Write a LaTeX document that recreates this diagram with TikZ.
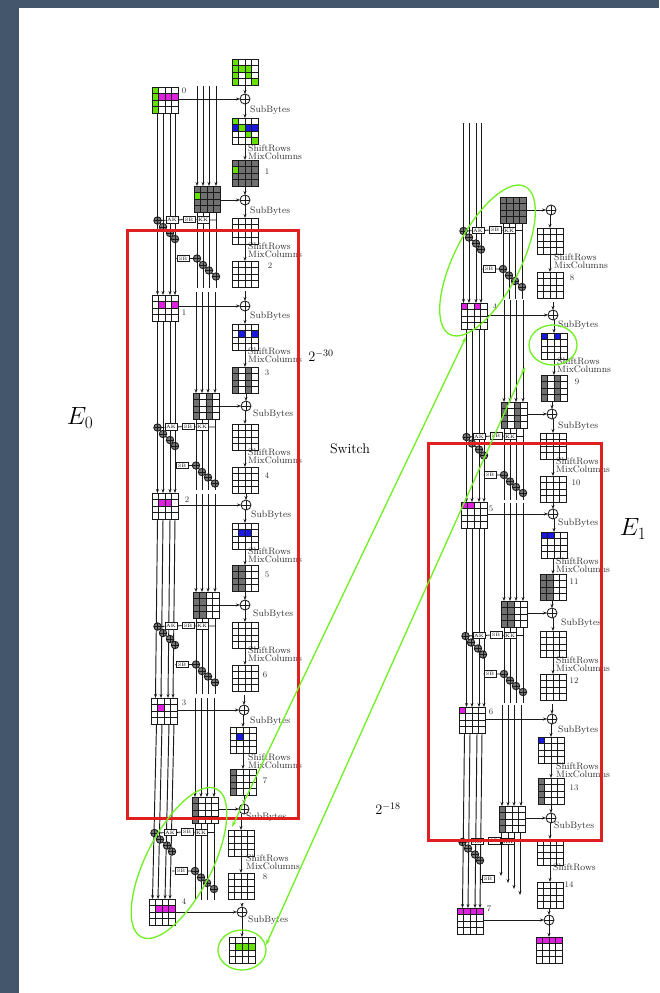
\documentclass[tikz,border=0pt]{standalone}
\usetikzlibrary{arrows.meta,shapes.geometric,calc}
\definecolor{gn}{HTML}{66E000}
\definecolor{mg}{HTML}{E020E0}
\definecolor{bl}{HTML}{1818E0}
\definecolor{dk}{HTML}{707070}
\definecolor{dot}{HTML}{787878}
\definecolor{ink}{HTML}{1A1A1A}
\definecolor{slate}{HTML}{44566C}
\definecolor{redb}{HTML}{E02020}
\definecolor{lime}{HTML}{70F020}
\tikzset{
  wire/.style={draw=ink,line width=0.95pt},
  arw/.style={wire,-{Stealth[length=4pt,width=3pt]}},
  gridbox/.style={rectangle,draw=ink,line width=1pt,minimum size=26,inner sep=0,outer sep=0},
  xorn/.style={circle,draw=ink,line width=0.85pt,minimum size=10,inner sep=0,outer sep=0,
    path picture={\draw[ink,line width=0.7pt] (path picture bounding box.north)--(path picture bounding box.south)
      (path picture bounding box.west)--(path picture bounding box.east);}},
  xord/.style={xorn,fill=dot,minimum size=7.5},
  keybox/.style={rectangle,draw=ink,line width=0.8pt,fill=white,minimum width=12,minimum height=6.5,inner sep=0,font=\fontsize{4.8}{5}\selectfont},
  tx/.style={anchor=west,inner sep=0,align=left,text=ink!90,font=\fontsize{9.4}{8}\selectfont},
  num/.style={inner sep=0,text=ink!90,font=\fontsize{8.5}{8}\selectfont},
  big/.style={inner sep=0,font=\fontsize{14}{16}\selectfont},
  redbox/.style={draw=redb,line width=3pt},
  ell/.style={ellipse,draw=lime,line width=1.3pt,inner sep=0},
  garw/.style={draw=lime,line width=1.3pt,{Stealth[length=6pt,width=4pt]}-{Stealth[length=6pt,width=4pt]}},
}
\def\wh{0/0/white}
\def\colA{0/0/dk,0/1/dk,0/2/dk,0/3/dk}
\def\colB{1/0/dk,1/1/dk,1/2/dk,1/3/dk}
\def\colC{2/0/dk,2/1/dk,2/2/dk,2/3/dk}
\def\colD{3/0/dk,3/1/dk,3/2/dk,3/3/dk}
% name, left, top, fills col/row/colour
\newcommand{\gridat}[4]{%
  \edef\lst{#4}%
  \foreach \cc/\rr/\kk in \lst {\fill[\kk] (#2+\cc*6.5,#3+\rr*6.5) rectangle ++(6.5,6.5);}
  \foreach \ii in {1,2,3} {
    \draw[ink,line width=1pt] (#2+\ii*6.5,#3) -- ++(0,26);
    \draw[ink,line width=1pt] (#2,#3+\ii*6.5) -- ++(26,0);
  }
  \node[gridbox] (#1) at (#2+13,#3+13) {};
}
\newcommand{\xorat}[3]{\node[xorn,fill=white] (#1) at (#2,#3) {};}
% from grid, to grid, x shift at lower end
\newcommand{\lwires}[3]{\foreach \o in {5.5,11,18,23}
  {\draw[arw] ([xshift=\o]#1.south west) -- ([xshift=\o+#3]#2.north west);}}
% mid grid, length above, length below
\newcommand{\mwires}[3]{\foreach \o [count=\i] in {3,9,15,22}{
  \coordinate (#1-t\i) at ([xshift=\o,yshift=#2]#1.north west);
  \coordinate (#1-b\i) at ([xshift=\o,yshift=-#3]#1.south west);
  \draw[arw] (#1-t\i) -- ([xshift=\o]#1.north west);
  \draw[wire] ([xshift=\o]#1.south west) -- (#1-b\i);}}
% id, left x, row y, mid x: upper part of the key schedule
\newcommand{\keyup}[4]{
  \coordinate (#1-e) at (#4+22,#3-0.5);
  \node[xord] (#1-a1) at (#2+5.5,#3) {};
  \node[xord] (#1-a2) at (#2+11,#3+6.5) {};
  \node[xord] (#1-a3) at (#2+18,#3+12.5) {};
  \node[xord] (#1-a4) at (#2+23,#3+18.5) {};
  \node[keybox] (#1-b1) at (#4-22,#3-0.5) {AK};
  \node[keybox] (#1-b2) at (#4-5,#3-1) {SB};
  \node[keybox] (#1-b3) at (#4+9,#3-0.5) {KK};
  \draw[wire] (#1-a1)--(#1-b1) (#1-b1)--(#1-b2) (#1-b2)--(#1-b3) (#1-b3)--(#1-e);
  \draw[wire] (#1-a1)--(#1-a2) (#1-a2)--(#1-a3) (#1-a3)--(#1-a4);
}
% lower part
\newcommand{\keylow}[4]{
  \coordinate (#1-f) at (#2+23,#3+38);
  \node[keybox] (#1-b4) at (#4-11,#3+38) {SB};
  \node[xord] (#1-c1) at (#4+3,#3+38) {};
  \node[xord] (#1-c2) at (#4+9,#3+44.5) {};
  \node[xord] (#1-c3) at (#4+15,#3+50) {};
  \node[xord] (#1-c4) at (#4+22,#3+56) {};
  \draw[wire] (#1-f)--(#1-b4) (#1-b4)--(#1-c1) (#1-c1)--(#1-c2) (#1-c2)--(#1-c3) (#1-c3)--(#1-c4);
}
\newcommand{\vv}[2]{\draw[arw] (#1.south -| #2.north) -- (#2.north);}
\newcommand{\vg}[2]{\draw[arw,shorten <=4pt] (#1.south -| #2.north) -- (#2.north);}
\newcommand{\hh}[2]{\draw[arw] (#1.east |- #2) -- (#2);}
\newcommand{\srmc}[3]{\node[tx] (#1) at (#2,#3) {ShiftRows\\MixColumns};}
\begin{document}
\begin{tikzpicture}[x=1pt,y=-1pt]
\useasboundingbox (0,0) rectangle (659,993);
\fill[white] (0,0) rectangle (659,993);
\fill[slate] (0,0) rectangle (19,993);
\fill[slate] (0,0) rectangle (659,8);

%% ---------- E0 column ----------
\gridat{L0}{152}{87}{0/0/gn,0/1/gn,0/2/gn,0/3/gn,1/1/mg,2/1/mg,3/1/mg}
\gridat{L1}{152}{295}{1/1/mg,3/1/mg}
\gridat{L2}{152}{493}{1/1/mg,2/1/mg}
\gridat{L3}{151}{698}{1/1/mg}
\gridat{L4}{149}{899}{1/1/mg,2/1/mg,3/1/mg}
\lwires{L0}{L1}{0}\lwires{L1}{L2}{0}\lwires{L2}{L3}{-1}\lwires{L3}{L4}{-2}

\gridat{M1}{194}{186}{\colA,\colB,\colC,\colD,0/1/gn}
\gridat{M2}{193}{393}{\colA,\colC}
\gridat{M3}{193}{592}{\colA,\colB}
\gridat{M4}{192}{797}{\colA}
\mwires{M1}{100}{76}\mwires{M2}{101}{71}\mwires{M3}{98}{76}\mwires{M4}{99}{77}

\keyup{k1}{152}{220.5}{194}\keylow{k1}{152}{220.5}{194}
\keyup{k2}{152}{427.5}{193}\keylow{k2}{152}{427.5}{193}
\keyup{k3}{152}{626.5}{193}\keylow{k3}{152}{626.5}{193}
\keyup{k4}{149}{833}{192}\keylow{k4}{149}{833}{192}

\gridat{R0}{232}{59}{0/0/gn,0/1/gn,1/1/gn,2/1/gn,0/2/gn,2/2/gn,0/3/gn,3/3/gn}
\xorat{X0}{245}{99}
\gridat{R1}{232}{118}{0/0/gn,0/1/bl,1/1/gn,2/1/bl,3/1/bl,2/2/gn,3/3/gn}
\gridat{R2}{232}{160}{\colA,\colB,\colC,\colD,0/1/gn}
\xorat{X1}{245}{200}
\gridat{R3}{232}{218}{\wh}
\gridat{R4}{232}{261}{\wh}
\xorat{X2}{245}{306}
\gridat{R5}{232}{324}{1/1/bl,3/1/bl}
\gridat{R6}{232}{367}{\colA,\colC}
\xorat{X3}{246}{406}
\gridat{R7}{232}{424}{\wh}
\gridat{R8}{232}{467}{\wh}
\xorat{X4}{246}{505}
\gridat{R9}{232}{523}{1/1/bl,2/1/bl}
\gridat{R10}{232}{565}{\colA,\colB}
\xorat{X5}{245}{605}
\gridat{R11}{232}{622}{\wh}
\gridat{R12}{232}{665}{\wh}
\xorat{X6}{244}{710}
\gridat{R13}{230}{727}{1/1/bl}
\gridat{R14}{230}{769}{\colA}
\xorat{X7}{244}{809}
\gridat{R15}{228}{830}{\wh}
\gridat{R16}{228}{873}{\wh}
\xorat{X8}{242}{912}
\gridat{R17}{229}{937}{1/1/gn,2/1/gn,3/1/gn}

\vv{R0}{X0}\vv{X0}{R1}\vv{R1}{R2}\vv{R2}{X1}\vv{X1}{R3}\vv{R3}{R4}\vg{R4}{X2}
\vv{X2}{R5}\vv{R5}{R6}\vv{R6}{X3}\vv{X3}{R7}\vv{R7}{R8}\vv{R8}{X4}
\vv{X4}{R9}\vv{R9}{R10}\vv{R10}{X5}\vv{X5}{R11}\vv{R11}{R12}\vg{R12}{X6}
\vv{X6}{R13}\vv{R13}{R14}\vv{R14}{X7}\vv{X7}{R15}\vv{R15}{R16}\vg{R16}{X8}\vv{X8}{R17}
\hh{L0}{X0}\hh{M1}{X1}\hh{L1}{X2}\hh{M2}{X3}\hh{L2}{X4}\hh{M3}{X5}\hh{L3}{X6}\hh{M4}{X7}\hh{L4}{X8}

\node[tx] (sb1) at (250,110) {SubBytes};
\node[tx] (sb2) at (250,211) {SubBytes};
\node[tx] (sb3) at (250,316) {SubBytes};
\node[tx] (sb4) at (253,414) {SubBytes};
\node[tx] (sb5) at (251,515) {SubBytes};
\node[tx] (sb6) at (253,614) {SubBytes};
\node[tx] (sb7) at (250,721) {SubBytes};
\node[tx] (sb8) at (246,817) {SubBytes};
\node[tx] (sb9) at (248,920) {SubBytes};
\srmc{sr1}{248}{152}\srmc{sr2}{248}{250}\srmc{sr3}{248}{355}\srmc{sr4}{248}{456}
\srmc{sr5}{248}{555}\srmc{sr6}{248}{654}\srmc{sr7}{248}{761}\srmc{sr8}{246}{862}
\node[num] (n1) at (184,91) {0};
\node[num] (n2) at (184,313) {1};
\node[num] (n3) at (267,172) {1};
\node[num] (n4) at (270,266) {2};
\node[num] (n5) at (267,373) {3};
\node[num] (n6) at (267,476) {4};
\node[num] (n7) at (187,500) {2};
\node[num] (n8) at (267,575) {5};
\node[num] (n9) at (265,675) {6};
\node[num] (n10) at (184,703) {3};
\node[num] (n11) at (265,781) {7};
\node[num] (n12) at (265,877) {8};
\node[num] (n13) at (184,902) {4};

%% ---------- E1 column ----------
\coordinate (etop) at (458,123);
\gridat{P4}{461}{303}{0/0/mg,2/0/mg}
\gridat{P5}{461}{502}{0/0/mg,1/0/mg}
\gridat{P6}{459}{707}{0/0/mg}
\gridat{P7}{457}{908}{0/0/mg,1/0/mg,2/0/mg,3/0/mg}
\foreach \o in {5.5,11,18,23}{\draw[arw] ([xshift=\o]etop) -- ([xshift=\o-3]P4.north west);}
\lwires{P4}{P5}{0}\lwires{P5}{P6}{2}\lwires{P6}{P7}{0}

\gridat{Q1}{500}{197}{\colA,\colB,\colC,\colD}
\gridat{Q2}{501}{402}{\colA,\colC}
\gridat{Q3}{501}{601}{\colA,\colB}
\gridat{Q4}{499}{806}{\colA}
\foreach \o [count=\i] in {3,9,15,22}{
  \coordinate (Q1-b\i) at ([xshift=\o,yshift=-76]Q1.south west);
  \draw[wire] ([xshift=\o]Q1.south west) -- (Q1-b\i);}
\mwires{Q2}{102}{72}\mwires{Q3}{98}{76}
\foreach \o [count=\i] in {3,9,15,22}{
  \coordinate (Q4-t\i) at ([xshift=\o,yshift=101]Q4.north west);
  \draw[arw] (Q4-t\i) -- ([xshift=\o]Q4.north west);}
\foreach \o/\l [count=\i] in {2/44,9/51,15/57,21/63}{
  \coordinate (Q4-b\i) at ([xshift=\o,yshift=-\l]Q4.south west);
  \draw[arw] ([xshift=\o]Q4.south west) -- (Q4-b\i);}

\keyup{h1}{458}{231}{500}\keylow{h1}{458}{231}{500}
\keyup{h2}{461}{437}{501}\keylow{h2}{461}{437}{501}
\keyup{h3}{460}{636}{501}\keylow{h3}{460}{636}{501}
\keyup{h4}{457}{842}{499}
\coordinate (h4-f) at (480,879);
\node[keybox] (h4-b4) at (488,879) {SB};
\draw[wire] (h4-f)--(h4-b4);

\xorat{Y0}{551}{210}
\gridat{S1}{537}{228}{\wh}
\gridat{S2}{537}{272}{\wh}
\xorat{Y1}{553}{315}
\gridat{S3}{541}{333}{0/0/bl,2/0/bl}
\gridat{S4}{541}{375}{\colA,\colC}
\xorat{Y2}{552}{414}
\gridat{S5}{540}{433}{\wh}
\gridat{S6}{540}{476}{\wh}
\xorat{Y3}{553}{514}
\gridat{S7}{541}{532}{0/0/bl,1/0/bl}
\gridat{S8}{540}{574}{\colA,\colB}
\xorat{Y4}{552}{613}
\gridat{S9}{540}{631}{\wh}
\gridat{S10}{540}{674}{\wh}
\xorat{Y5}{552}{719}
\gridat{S11}{538}{737}{0/0/bl}
\gridat{S12}{538}{778}{\colA}
\xorat{Y6}{551}{818}
\gridat{S13}{537}{839}{\wh}
\gridat{S14}{537}{882}{\wh}
\xorat{Y7}{549}{920}
\gridat{S15}{536}{937}{0/0/mg,1/0/mg,2/0/mg,3/0/mg}

\vv{Y0}{S1}\vv{S1}{S2}\vg{S2}{Y1}\vv{Y1}{S3}\vv{S3}{S4}\vv{S4}{Y2}\vv{Y2}{S5}\vv{S5}{S6}\vv{S6}{Y3}
\vv{Y3}{S7}\vv{S7}{S8}\vv{S8}{Y4}\vv{Y4}{S9}\vv{S9}{S10}\vg{S10}{Y5}\vv{Y5}{S11}\vv{S11}{S12}\vv{S12}{Y6}
\vv{Y6}{S13}\vv{S13}{S14}\vv{S14}{Y7}\vv{Y7}{S15}
\hh{Q1}{Y0}\hh{P4}{Y1}\hh{Q2}{Y2}\hh{P5}{Y3}\hh{Q3}{Y4}\hh{P6}{Y5}\hh{Q4}{Y6}\hh{P7}{Y7}

\node[tx] (tb1) at (558,325) {SubBytes};
\node[tx] (tb2) at (558,426) {SubBytes};
\node[tx] (tb3) at (558,523) {SubBytes};
\node[tx] (tb4) at (561,623) {SubBytes};
\node[tx] (tb5) at (558,730) {SubBytes};
\node[tx] (tb6) at (554,826) {SubBytes};
\srmc{tr1}{554}{261}\srmc{tr2}{557}{365}\srmc{tr3}{556}{465}\srmc{tr4}{556}{565}
\srmc{tr5}{556}{664}\srmc{tr6}{556}{770}
\node[tx] (tr7) at (553,867) {ShiftRows};
\node[num] (m1) at (572,278) {8};
\node[num] (m2) at (495,307) {4};
\node[num] (m3) at (577,382) {9};
\node[num] (m4) at (576,483) {10};
\node[num] (m5) at (491,509) {5};
\node[num] (m6) at (574,582) {11};
\node[num] (m7) at (574,681) {12};
\node[num] (m8) at (491,712) {6};
\node[num] (m9) at (574,788) {13};
\node[num] (m10) at (569,885) {14};
\node[num] (m11) at (489,909) {7};

%% ---------- overlays ----------
\draw[redbox] (127,230) rectangle (298,818);
\draw[redbox] (428,443) rectangle (601,840);

\node[ell,minimum width=166,minimum height=66,rotate=63] (ea) at (179,863) {};
\node[ell,minimum width=48,minimum height=40] (eb) at (242,950) {};
\node[ell,minimum width=166,minimum height=66,rotate=63] (ec) at (487.5,260.5) {};
\node[ell,minimum width=48,minimum height=40] (ed) at (553,345) {};
\coordinate (g1) at (232,827);
\coordinate (g2) at (466,337);
\coordinate (g3) at (266,945);
\coordinate (g4) at (525,367);
\draw[garw] (g1) -- (g2);
\draw[garw] (g3) -- (g4);

\node[big,font=\fontsize{26}{28}\selectfont] (e0) at (80,418) {$E_0$};
\node[big,font=\fontsize{26}{28}\selectfont] (e1) at (633,529) {$E_1$};
\node[big] (p30) at (321,356) {$2^{-30}$};
\node[big] (sw) at (350,449) {Switch};
\node[big] (p18) at (388,809) {$2^{-18}$};
\end{tikzpicture}
\end{document}
